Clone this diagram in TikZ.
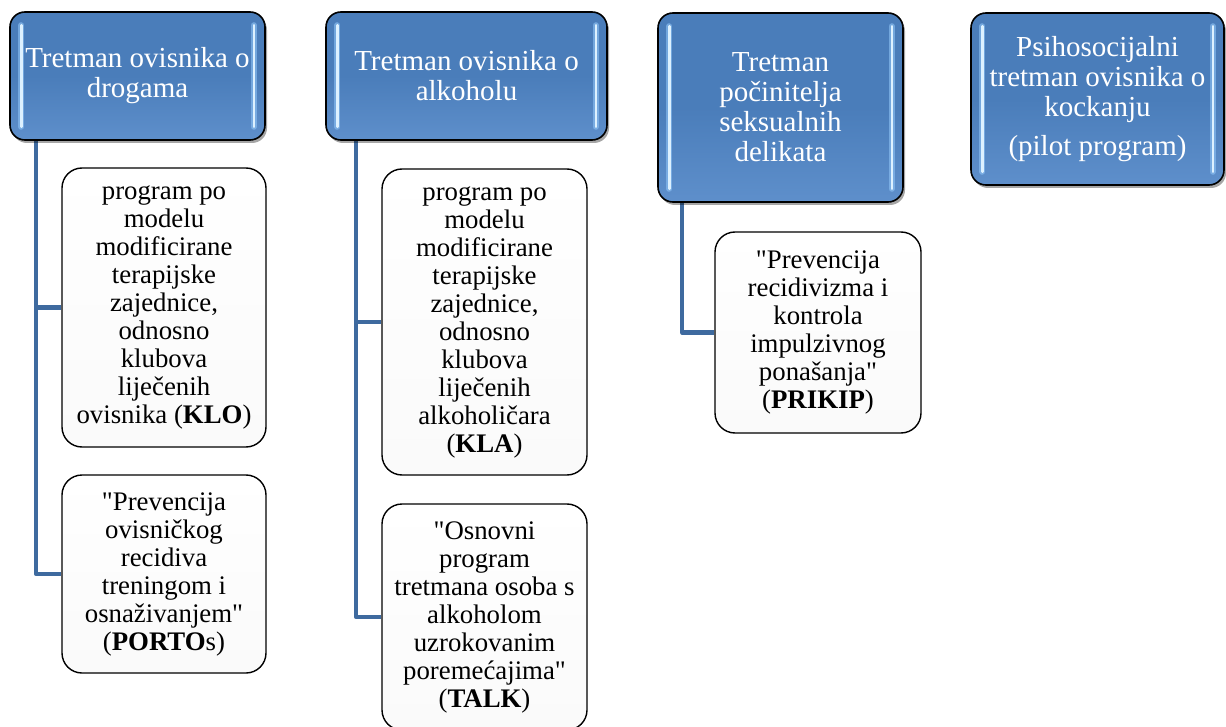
\documentclass[tikz,border=0pt]{standalone}
\usepackage{fontspec}
\setmainfont{Liberation Serif}[Ligatures=TeXOff]
\usetikzlibrary{shadows,backgrounds}
\definecolor{hblue}{HTML}{4A7DBA}
\definecolor{hblueL}{HTML}{5E8FCB}
\definecolor{connc}{HTML}{3E6A9F}
\definecolor{hlite}{HTML}{DDF1FF}
\definecolor{hglow}{HTML}{8FC3F5}
\tikzset{
 hdr/.style={draw=black, line width=1.6pt, rounded corners=15pt,
   top color=hblue, bottom color=hblueL, middle color=hblue,
   text=white, align=center, font=\fontsize{29}{30}\selectfont, inner sep=0pt,
   drop shadow={shadow xshift=2pt, shadow yshift=-3pt, opacity=0.35, fill=black}},
 kid/.style={draw=black, line width=1.4pt, rounded corners=20pt,
   top color=white, bottom color=black!2, align=center,
   font=\fontsize{26.8}{28}\selectfont, inner sep=0pt},
 connline/.style={draw=connc, line width=4.5pt, line join=round},
 hbar/.style={draw=hlite, line width=2.6pt, line cap=round},
 hbarglow/.style={draw=hglow, line width=6pt, line cap=round, opacity=0.6}
}
\begin{document}
\begin{tikzpicture}[x=1pt, y=-1pt]
\useasboundingbox (0,0) rectangle (1226,727);
% headers
\node[hdr, minimum width=255pt, minimum height=128pt] (h1) at (137.5,76)
  {Tretman ovisnika o\\drogama};
\node[hdr, minimum width=281pt, minimum height=128pt] (h2) at (466.5,76)
  {Tretman ovisnika o\\alkoholu};
\node[hdr, minimum width=245pt, minimum height=189pt] (h3) at (780.5,107.5)
  {Tretman\\počinitelja\\seksualnih\\delikata};
\node[hdr, minimum width=253pt, minimum height=172pt] (h4) at (1097.5,99)
  {Psihosocijalni\\tretman ovisnika o\\kockanju\\[9pt](pilot program)};
\foreach \h in {h1,h2,h3,h4}{
  \draw[hbarglow] ([xshift=12pt,yshift=-14pt]\h.north west) -- ([xshift=12pt,yshift=14pt]\h.south west);
  \draw[hbar] ([xshift=12pt,yshift=-14pt]\h.north west) -- ([xshift=12pt,yshift=14pt]\h.south west);
  \draw[hbarglow] ([xshift=-12pt,yshift=-14pt]\h.north east) -- ([xshift=-12pt,yshift=14pt]\h.south east);
  \draw[hbar] ([xshift=-12pt,yshift=-14pt]\h.north east) -- ([xshift=-12pt,yshift=14pt]\h.south east);
}
% children
\node[kid, minimum width=204pt, minimum height=279pt] (k1) at (164,307.5)
  {program po\\modelu\\modificirane\\terapijske\\zajednice,\\odnosno\\klubova\\liječenih\\ovisnika (\textbf{KLO})};
\node[kid, minimum width=204pt, minimum height=198pt] (k2) at (164,574)
  {"Prevencija\\ovisničkog\\recidiva\\treningom i\\osnaživanjem"\\(\textbf{PORTO}s)};
\node[kid, minimum width=205pt, minimum height=306pt] (k3) at (484.5,322)
  {program po\\modelu\\modificirane\\terapijske\\zajednice,\\odnosno\\klubova\\liječenih\\alkoholičara\\(\textbf{KLA})};
\node[kid, minimum width=205pt, minimum height=226pt] (k4) at (484.5,617)
  {"Osnovni\\program\\tretmana osoba s\\alkoholom\\uzrokovanim\\poremećajima"\\(\textbf{TALK})};
\node[kid, minimum width=206pt, minimum height=201pt] (k5) at (818,332.5)
  {"Prevencija\\recidivizma i\\kontrola\\impulzivnog\\ponašanja"\\(\textbf{PRIKIP})};
% connectors
\begin{scope}[on background layer]
\fill[white] (0,0) rectangle (1226,727);
\draw[connline] ([xshift=27pt]h1.south west) |- (k1.west);
\draw[connline] ([xshift=27pt]h1.south west) |- (k2.west);
\draw[connline] ([xshift=31pt]h2.south west) |- (k3.west);
\draw[connline] ([xshift=31pt]h2.south west) |- (k4.west);
\draw[connline] ([xshift=25pt]h3.south west) |- (k5.west);
\end{scope}
\end{tikzpicture}
\end{document}
